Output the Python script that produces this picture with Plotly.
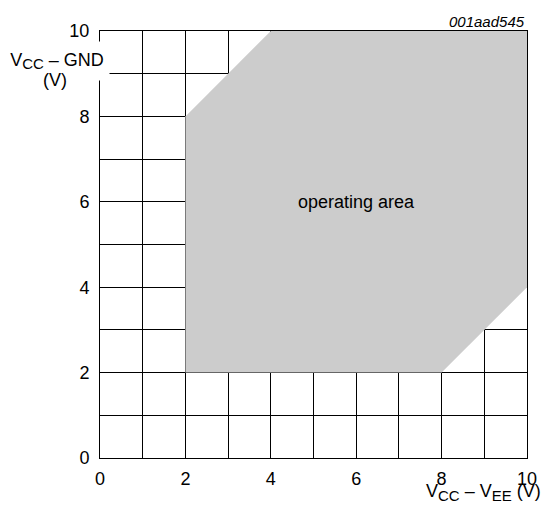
import plotly.graph_objects as go

area_x = [2, 2, 4, 10, 10, 8, 2]
area_y = [2, 8, 10, 10, 4, 2, 2]
tick_vals = [0, 2, 4, 6, 8, 10]
tick_text = ["0", "2", "4", "6", "8", "10"]

font = "Liberation Sans, Arial, sans-serif"
SUB = '<sub><span style="font-size:15px">{}</span></sub>'

fig = go.Figure()
fig.add_trace(go.Scatter(x=area_x, y=area_y, fill="toself", fillcolor="#cccccc",
                         line=dict(width=0), mode="lines", hoverinfo="skip",
                         showlegend=False))

axis_common = dict(range=[0, 10], tickvals=tick_vals, ticktext=tick_text,
                   showgrid=True, gridcolor="black", gridwidth=1,
                   showline=True, linecolor="black", linewidth=1, mirror=True,
                   zeroline=False, ticks="", fixedrange=True, automargin=False,
                   tickfont=dict(family=font, size=18, color="black"),
                   minor=dict(dtick=1, tick0=0, showgrid=True,
                              gridcolor="black", gridwidth=1))

fig.update_xaxes(**axis_common, ticklabelstandoff=4)
fig.update_yaxes(**axis_common, ticklabelstandoff=6)

fig.add_annotation(x=6, y=6, text="operating area", showarrow=False,
                   font=dict(family=font, size=18, color="black"))
fig.add_annotation(x=0.0234, xref="paper", xanchor="right", y=0.9297, yref="paper",
                   yanchor="middle", width=102, height=36,
                   text="V" + SUB.format("CC") + " – GND", showarrow=False,
                   bgcolor="white", align="center",
                   font=dict(family=font, size=18, color="black"))
fig.add_annotation(x=-0.105, xref="paper", xanchor="center", y=0.885, yref="paper",
                   yanchor="middle", text="(V)", showarrow=False,
                   font=dict(family=font, size=18, color="black"))
fig.add_annotation(x=1.0375, xref="paper", xanchor="right", y=-0.08, yref="paper",
                   yanchor="middle",
                   text="V" + SUB.format("CC") + " – V" + SUB.format("EE") + " (V)",
                   showarrow=False, font=dict(family=font, size=18, color="black"))
fig.add_annotation(x=1.0, xref="paper", xanchor="right", y=1.0234, yref="paper",
                   yanchor="middle", text="<i>001aad545</i>", showarrow=False,
                   font=dict(family=font, size=15, color="black"))

fig.update_layout(width=544, height=509, margin=dict(l=100, r=17, t=31, b=51),
                  plot_bgcolor="white", paper_bgcolor="white")

fig.write_html("out.html", config={"displayModeBar": False},
               post_script="document.body.style.margin='0px';")
